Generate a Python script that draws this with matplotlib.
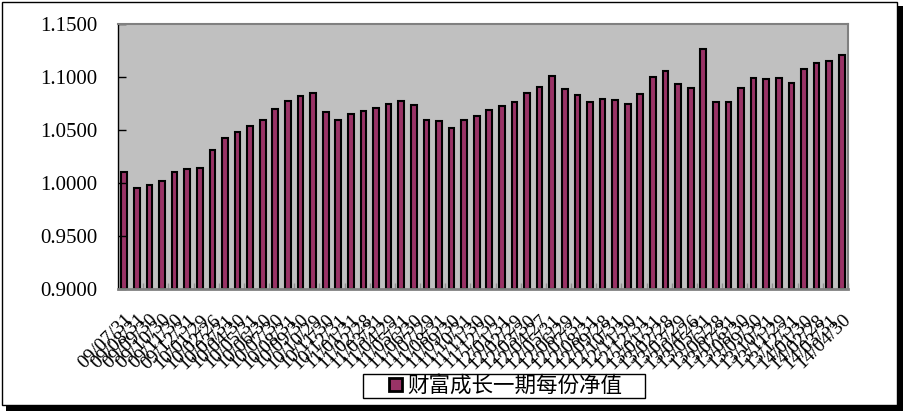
import numpy as np
import matplotlib.pyplot as plt
from matplotlib.patches import Rectangle, Patch
from matplotlib.ticker import FormatStrFormatter, FixedLocator

# month-end dates (labels) and net value per share
dates = ["09/07/31", "09/08/31", "09/09/30", "09/10/30", "09/11/30", "09/12/31",
         "10/01/29", "10/02/26", "10/03/31", "10/04/30", "10/05/31", "10/06/30",
         "10/07/30", "10/08/31", "10/09/30", "10/10/29", "10/11/30", "10/12/31",
         "11/01/31", "11/02/28", "11/03/31", "11/04/29", "11/05/31", "11/06/30",
         "11/07/29", "11/08/31", "11/09/30", "11/10/31", "11/11/30", "11/12/30",
         "12/01/31", "12/02/29", "12/03/30", "12/04/27", "12/05/31", "12/06/29",
         "12/07/31", "12/08/31", "12/09/28", "12/10/31", "12/11/30", "12/12/31",
         "13/01/31", "13/02/28", "13/03/29", "13/04/26", "13/05/31", "13/06/28",
         "13/07/31", "13/08/30", "13/09/30", "13/10/31", "13/11/29", "13/12/31",
         "14/01/30", "14/02/28", "14/03/31", "14/04/30"]
nav = [1.0105, 0.9952, 0.9981, 1.0019, 1.0105, 1.0134, 1.0143, 1.0315, 1.0429, 1.0477,
       1.0534, 1.0592, 1.0697, 1.0773, 1.0821, 1.0849, 1.0668, 1.0592, 1.0649, 1.0677,
       1.0706, 1.0744, 1.0773, 1.0735, 1.0592, 1.0582, 1.0515, 1.0592, 1.0630, 1.0687,
       1.0725, 1.0763, 1.0849, 1.0906, 1.1011, 1.0887, 1.0830, 1.0763, 1.0792, 1.0782,
       1.0744, 1.0840, 1.1002, 1.1059, 1.0935, 1.0897, 1.1260, 1.0763, 1.0763, 1.0897,
       1.0992, 1.0983, 1.0992, 1.0945, 1.1078, 1.1135, 1.1154, 1.1212]
series_name = "财富成长一期每份净值"

serif = ["Liberation Serif", "DejaVu Serif"]
cjk = ["Noto Sans CJK SC", "DejaVu Sans"]
W, H = 905, 411

fig = plt.figure(figsize=(W / 100, H / 100), dpi=100)

# outer chart border with shadow
fig.patches.append(Rectangle((6 / W, 0), 897 / W, 405 / H, transform=fig.transFigure,
                             facecolor="black", edgecolor="none", zorder=0))
fig.patches.append(Rectangle((2 / W, 6 / H), 895 / W, 403 / H, transform=fig.transFigure,
                             facecolor="white", edgecolor="black", linewidth=1.0, zorder=1))

ax = fig.add_axes([118 / W, 1 - 289 / H, 730 / W, 265 / H])
ax.set_zorder(2)
ax.set_facecolor("#C0C0C0")

x = np.arange(len(nav))
ax.bar(x, np.array(nav) - 0.9, bottom=0.9, width=0.45, color="#993366",
       edgecolor="black", linewidth=1.5)

ax.set_xlim(-0.5, len(nav) - 0.5)
ax.set_ylim(0.9, 1.15)
ax.set_yticks(np.arange(0.9, 1.1501, 0.05))
ax.yaxis.set_major_formatter(FormatStrFormatter("%.4f"))
ax.tick_params(axis="y", direction="in", length=6, width=1, color="black",
               labelsize=15, pad=15)
for t in ax.get_yticklabels():
    t.set_fontfamily(serif)

ax.set_xticks(x)
ax.set_xticklabels(dates, rotation=45, ha="right", rotation_mode="anchor",
                   fontsize=14, family=serif)
ax.tick_params(axis="x", which="major", length=0, pad=16)
ax.xaxis.set_minor_locator(FixedLocator(np.arange(1.5, len(nav), 2)))
ax.tick_params(axis="x", which="minor", direction="in", length=4, width=1, color="#909090")

for s in ["top", "right"]:
    ax.spines[s].set_color("#808080")
    ax.spines[s].set_linewidth(1.5)
ax.spines["bottom"].set_color("#808080")
ax.spines["bottom"].set_linewidth(2)
ax.spines["left"].set_color("black")
ax.spines["left"].set_linewidth(1)

# legend box
fig.patches.append(Rectangle((363 / W, 1 - 398 / H), 282 / W, 24 / H, transform=fig.transFigure,
                             facecolor="white", edgecolor="black", linewidth=1.0, zorder=3))
leg = fig.legend(handles=[Patch(facecolor="#993366", edgecolor="black", linewidth=2,
                                label=series_name)],
                 loc="center", bbox_to_anchor=(506 / W, 1 - 386 / H),
                 prop={"family": cjk, "size": 15.5}, frameon=False,
                 handlelength=0.6, handleheight=0.6, handletextpad=0.25,
                 borderpad=0, borderaxespad=0)
leg.set_zorder(4)

fig.savefig("out.png", dpi=100)
